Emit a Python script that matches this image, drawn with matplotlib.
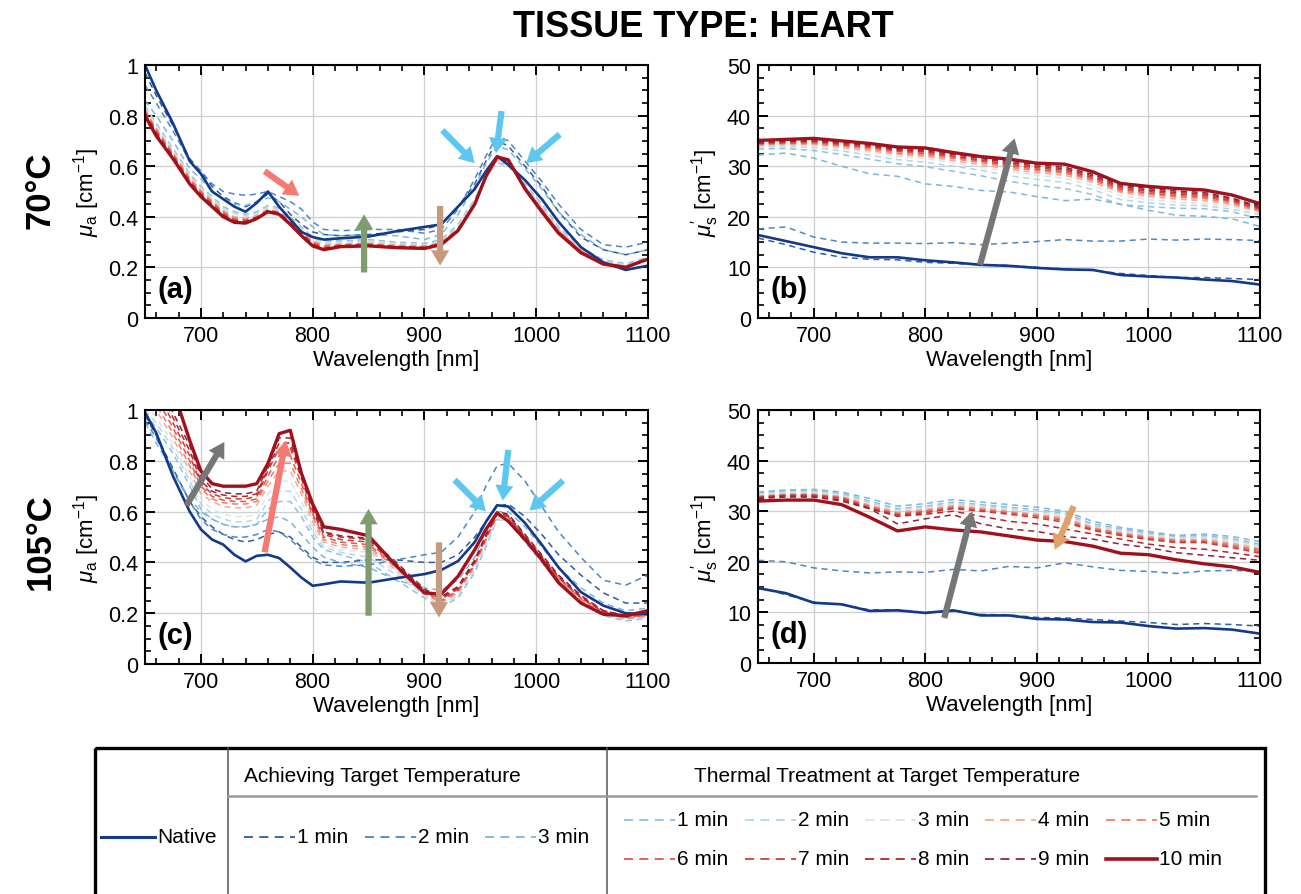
import numpy as np
import matplotlib
matplotlib.use('Agg')
import matplotlib.pyplot as plt
from matplotlib.ticker import MultipleLocator, FuncFormatter
from matplotlib.patches import Rectangle, FancyArrowPatch, ArrowStyle

plt.rcParams['font.family'] = ['Liberation Sans', 'DejaVu Sans']
plt.rcParams['mathtext.fontset'] = 'custom'
plt.rcParams['mathtext.rm'] = 'Liberation Sans'
plt.rcParams['mathtext.it'] = 'Liberation Sans:italic'

# ---- data ----
# wavelength grid for the absorption panels (a), (c)
wl_mua = [650, 660, 675, 690, 700, 710, 720, 730, 740, 750,
          760, 770, 780, 790, 800, 810, 825, 850, 875, 900,
          915, 930, 945, 955, 965, 975, 990, 1005, 1020, 1040,
          1060, 1080, 1100]
# wavelength grid for the scattering panels (b), (d)
wl_mus = [650, 675, 700, 725, 750, 775, 800, 825, 850, 875,
          900, 925, 950, 975, 1000, 1025, 1050, 1075, 1100]

# (a) 70 C, mu_a
mua70_native = [1.00, 0.90, 0.77, 0.62, 0.57, 0.50, 0.47, 0.44, 0.42, 0.455,
                0.50, 0.44, 0.39, 0.34, 0.32, 0.31, 0.315, 0.322, 0.343, 0.36,
                0.37, 0.44, 0.51, 0.58, 0.64, 0.605, 0.545, 0.47, 0.38, 0.28,
                0.22, 0.19, 0.207]
mua70_ach = np.array([
    [0.97, 0.88, 0.76, 0.63, 0.58, 0.52, 0.48, 0.455, 0.44, 0.46,
     0.49, 0.46, 0.41, 0.37, 0.34, 0.33, 0.325, 0.33, 0.34, 0.35,
     0.37, 0.44, 0.53, 0.62, 0.70, 0.68, 0.60, 0.52, 0.42, 0.32,
     0.27, 0.25, 0.27],
    [0.92, 0.85, 0.74, 0.62, 0.58, 0.53, 0.50, 0.49, 0.485, 0.49,
     0.50, 0.48, 0.46, 0.43, 0.38, 0.35, 0.345, 0.35, 0.35, 0.335,
     0.35, 0.43, 0.55, 0.64, 0.72, 0.70, 0.62, 0.54, 0.45, 0.35,
     0.29, 0.28, 0.30],
    [0.86, 0.80, 0.70, 0.59, 0.55, 0.50, 0.47, 0.45, 0.445, 0.46,
     0.475, 0.46, 0.43, 0.40, 0.36, 0.33, 0.325, 0.33, 0.325, 0.31,
     0.33, 0.41, 0.52, 0.61, 0.68, 0.665, 0.59, 0.51, 0.42, 0.33,
     0.27, 0.25, 0.27],
])
mua70_heat = np.array([
    [0.84, 0.77, 0.67, 0.57, 0.52, 0.48, 0.44, 0.42, 0.41, 0.42,
     0.445, 0.435, 0.40, 0.36, 0.32, 0.305, 0.305, 0.31, 0.30, 0.295,
     0.31, 0.37, 0.47, 0.56, 0.615, 0.605, 0.53, 0.45, 0.36, 0.28,
     0.23, 0.215, 0.24],
    [0.835, 0.765, 0.665, 0.565, 0.515, 0.475, 0.435, 0.415, 0.405, 0.415,
     0.44, 0.43, 0.395, 0.355, 0.315, 0.30, 0.30, 0.305, 0.295, 0.29,
     0.305, 0.365, 0.465, 0.555, 0.61, 0.60, 0.525, 0.445, 0.355, 0.275,
     0.225, 0.21, 0.235],
    [0.83, 0.76, 0.66, 0.56, 0.51, 0.47, 0.43, 0.41, 0.40, 0.41,
     0.435, 0.425, 0.39, 0.35, 0.31, 0.295, 0.295, 0.30, 0.29, 0.287,
     0.30, 0.36, 0.46, 0.555, 0.62, 0.61, 0.52, 0.44, 0.35, 0.27,
     0.222, 0.207, 0.235],
    [0.825, 0.75, 0.655, 0.555, 0.505, 0.465, 0.425, 0.40, 0.395, 0.405,
     0.43, 0.42, 0.385, 0.345, 0.305, 0.29, 0.292, 0.296, 0.288, 0.285,
     0.298, 0.355, 0.457, 0.558, 0.625, 0.615, 0.52, 0.435, 0.348, 0.267,
     0.22, 0.205, 0.235],
    [0.82, 0.745, 0.65, 0.55, 0.50, 0.46, 0.42, 0.395, 0.39, 0.40,
     0.428, 0.418, 0.382, 0.34, 0.30, 0.285, 0.29, 0.293, 0.285, 0.282,
     0.296, 0.352, 0.455, 0.558, 0.628, 0.618, 0.518, 0.43, 0.345, 0.265,
     0.218, 0.204, 0.235],
    [0.815, 0.74, 0.645, 0.545, 0.495, 0.455, 0.415, 0.39, 0.387, 0.398,
     0.426, 0.416, 0.379, 0.336, 0.296, 0.28, 0.288, 0.291, 0.283, 0.28,
     0.294, 0.35, 0.453, 0.559, 0.63, 0.62, 0.516, 0.428, 0.342, 0.263,
     0.217, 0.203, 0.234],
    [0.81, 0.735, 0.64, 0.54, 0.49, 0.45, 0.41, 0.386, 0.383, 0.397,
     0.424, 0.414, 0.376, 0.333, 0.293, 0.277, 0.286, 0.289, 0.281, 0.279,
     0.293, 0.349, 0.452, 0.56, 0.632, 0.621, 0.514, 0.425, 0.34, 0.261,
     0.216, 0.202, 0.234],
    [0.805, 0.73, 0.635, 0.535, 0.487, 0.447, 0.406, 0.383, 0.38, 0.396,
     0.423, 0.412, 0.374, 0.33, 0.29, 0.274, 0.284, 0.287, 0.28, 0.278,
     0.292, 0.348, 0.451, 0.56, 0.634, 0.622, 0.512, 0.423, 0.338, 0.26,
     0.215, 0.201, 0.234],
    [0.80, 0.725, 0.632, 0.532, 0.483, 0.443, 0.403, 0.38, 0.377, 0.394,
     0.421, 0.411, 0.372, 0.327, 0.287, 0.272, 0.283, 0.286, 0.279, 0.276,
     0.291, 0.346, 0.45, 0.56, 0.635, 0.623, 0.511, 0.421, 0.336, 0.259,
     0.214, 0.20, 0.233],
    [0.80, 0.72, 0.63, 0.53, 0.48, 0.44, 0.40, 0.378, 0.375, 0.393,
     0.42, 0.41, 0.37, 0.325, 0.285, 0.27, 0.282, 0.285, 0.278, 0.275,
     0.29, 0.345, 0.45, 0.56, 0.637, 0.625, 0.51, 0.42, 0.335, 0.258,
     0.213, 0.20, 0.233],
])

# (c) 105 C, mu_a
mua105_native = [0.99, 0.91, 0.74, 0.60, 0.53, 0.49, 0.47, 0.43, 0.404, 0.426,
                 0.43, 0.417, 0.38, 0.34, 0.308, 0.314, 0.325, 0.32, 0.338, 0.354,
                 0.37, 0.405, 0.48, 0.56, 0.625, 0.62, 0.555, 0.47, 0.38, 0.283,
                 0.23, 0.20, 0.196]
mua105_ach = np.array([
    [0.98, 0.90, 0.77, 0.64, 0.58, 0.54, 0.51, 0.49, 0.48, 0.49,
     0.51, 0.52, 0.50, 0.46, 0.42, 0.40, 0.40, 0.41, 0.41, 0.40,
     0.40, 0.43, 0.50, 0.56, 0.62, 0.63, 0.58, 0.51, 0.43, 0.35,
     0.28, 0.24, 0.24],
    [0.96, 0.89, 0.76, 0.64, 0.57, 0.53, 0.51, 0.50, 0.50, 0.51,
     0.53, 0.52, 0.49, 0.45, 0.41, 0.39, 0.385, 0.39, 0.41, 0.43,
     0.44, 0.50, 0.60, 0.70, 0.78, 0.79, 0.72, 0.62, 0.52, 0.42,
     0.33, 0.31, 0.35],
    [0.95, 0.87, 0.76, 0.65, 0.60, 0.57, 0.55, 0.54, 0.54, 0.55,
     0.57, 0.58, 0.56, 0.51, 0.46, 0.42, 0.40, 0.38, 0.33, 0.30,
     0.29, 0.33, 0.42, 0.52, 0.60, 0.60, 0.54, 0.46, 0.38, 0.30,
     0.24, 0.21, 0.22],
])
mua105_heat = np.array([
    [0.99, 0.93, 0.83, 0.70, 0.61, 0.57, 0.55, 0.54, 0.54, 0.55,
     0.61, 0.64, 0.64, 0.58, 0.50, 0.45, 0.43, 0.40, 0.33, 0.26,
     0.225, 0.26, 0.36, 0.46, 0.57, 0.56, 0.48, 0.40, 0.32, 0.24,
     0.19, 0.17, 0.18],
    [1.00, 0.95, 0.85, 0.72, 0.63, 0.59, 0.57, 0.56, 0.56, 0.57,
     0.64, 0.68, 0.68, 0.61, 0.52, 0.46, 0.44, 0.42, 0.35, 0.27,
     0.23, 0.27, 0.37, 0.47, 0.57, 0.565, 0.49, 0.41, 0.33, 0.245,
     0.195, 0.175, 0.185],
    [1.02, 0.97, 0.87, 0.74, 0.65, 0.61, 0.59, 0.58, 0.58, 0.59,
     0.67, 0.72, 0.72, 0.64, 0.54, 0.47, 0.45, 0.44, 0.36, 0.27,
     0.235, 0.275, 0.38, 0.48, 0.575, 0.565, 0.49, 0.41, 0.33, 0.25,
     0.20, 0.18, 0.19],
    [1.05, 1.00, 0.89, 0.76, 0.67, 0.64, 0.62, 0.615, 0.615, 0.625,
     0.70, 0.76, 0.76, 0.67, 0.56, 0.48, 0.46, 0.45, 0.37, 0.275,
     0.24, 0.28, 0.385, 0.485, 0.58, 0.57, 0.49, 0.41, 0.33, 0.25,
     0.20, 0.18, 0.19],
    [1.08, 1.02, 0.91, 0.78, 0.69, 0.65, 0.635, 0.63, 0.63, 0.64,
     0.72, 0.79, 0.79, 0.69, 0.58, 0.49, 0.47, 0.46, 0.38, 0.28,
     0.245, 0.285, 0.39, 0.49, 0.585, 0.575, 0.495, 0.415, 0.335, 0.255,
     0.20, 0.18, 0.19],
    [1.10, 1.05, 0.93, 0.80, 0.70, 0.66, 0.645, 0.64, 0.64, 0.65,
     0.74, 0.82, 0.82, 0.71, 0.59, 0.50, 0.48, 0.47, 0.385, 0.285,
     0.25, 0.29, 0.395, 0.495, 0.59, 0.58, 0.50, 0.42, 0.34, 0.26,
     0.205, 0.185, 0.195],
    [1.13, 1.08, 0.95, 0.82, 0.71, 0.67, 0.655, 0.65, 0.65, 0.66,
     0.76, 0.85, 0.85, 0.73, 0.60, 0.51, 0.49, 0.48, 0.39, 0.29,
     0.255, 0.295, 0.40, 0.50, 0.59, 0.58, 0.50, 0.42, 0.34, 0.26,
     0.205, 0.185, 0.195],
    [1.16, 1.10, 0.97, 0.84, 0.72, 0.68, 0.665, 0.66, 0.66, 0.67,
     0.77, 0.87, 0.87, 0.74, 0.61, 0.515, 0.50, 0.49, 0.395, 0.29,
     0.26, 0.30, 0.405, 0.505, 0.595, 0.585, 0.505, 0.425, 0.345, 0.265,
     0.21, 0.19, 0.20],
    [1.20, 1.13, 0.99, 0.86, 0.74, 0.69, 0.675, 0.67, 0.67, 0.68,
     0.78, 0.89, 0.89, 0.75, 0.62, 0.52, 0.505, 0.495, 0.40, 0.295,
     0.265, 0.305, 0.41, 0.51, 0.60, 0.59, 0.51, 0.43, 0.35, 0.27,
     0.21, 0.19, 0.20],
    [1.35, 1.25, 1.08, 0.88, 0.76, 0.71, 0.70, 0.70, 0.70, 0.71,
     0.79, 0.907, 0.92, 0.75, 0.63, 0.54, 0.53, 0.505, 0.385, 0.28,
     0.275, 0.345, 0.45, 0.53, 0.595, 0.562, 0.49, 0.41, 0.32, 0.24,
     0.196, 0.19, 0.21],
])

# (b) 70 C, mu_s'
mus70_native = [16.4, 15.2, 14.0, 12.8, 12.0, 12.0, 11.4, 11.0, 10.5, 10.3,
                9.9, 9.6, 9.5, 8.5, 8.2, 8.0, 7.6, 7.3, 6.6]
mus70_ach = np.array([
    [15.8, 14.5, 13.0, 12.0, 11.6, 11.5, 11.0, 10.8, 10.5, 10.4,
     10.0, 9.7, 9.4, 8.8, 8.4, 8.0, 8.0, 7.8, 7.6],
    [17.6, 18.0, 16.0, 15.0, 14.8, 14.8, 14.7, 14.9, 14.5, 14.8,
     15.1, 15.5, 15.2, 15.2, 15.6, 15.4, 15.6, 15.5, 15.3],
    [32.2, 32.6, 31.6, 30.0, 28.5, 28.0, 26.5, 26.0, 25.2, 24.9,
     24.0, 23.2, 23.5, 22.5, 21.3, 20.3, 20.1, 19.6, 18.1],
])
mus70_heat = np.array([
    [33.4, 33.5, 33.1, 32.3, 31.4, 30.5, 29.9, 29.0, 28.1, 27.0,
     26.2, 25.6, 24.4, 22.4, 22.0, 21.7, 21.6, 21.0, 19.6],
    [33.8, 33.9, 33.7, 33.0, 32.2, 31.3, 30.8, 30.0, 29.2, 28.1,
     27.4, 26.8, 25.4, 23.4, 22.8, 22.3, 22.2, 21.5, 20.4],
    [34.0, 34.1, 34.1, 33.4, 32.8, 31.9, 31.5, 30.7, 29.8, 28.9,
     28.2, 27.6, 26.2, 24.2, 23.4, 22.9, 22.6, 22.0, 20.8],
    [34.1, 34.3, 34.3, 33.7, 33.1, 32.3, 31.9, 31.1, 30.3, 29.4,
     28.7, 28.2, 26.8, 24.8, 24.0, 23.5, 23.2, 22.4, 21.0],
    [34.3, 34.5, 34.5, 34.0, 33.4, 32.6, 32.2, 31.5, 30.7, 29.8,
     29.1, 28.6, 27.2, 25.1, 24.4, 23.9, 23.6, 22.7, 21.2],
    [34.4, 34.6, 34.7, 34.2, 33.7, 32.9, 32.5, 31.8, 31.0, 30.1,
     29.4, 28.9, 27.5, 25.4, 24.7, 24.2, 23.9, 23.0, 21.4],
    [34.5, 34.8, 34.9, 34.4, 33.9, 33.1, 32.8, 32.0, 31.2, 30.4,
     29.7, 29.2, 27.8, 25.7, 25.0, 24.5, 24.2, 23.2, 21.6],
    [34.6, 34.9, 35.0, 34.6, 34.1, 33.3, 33.0, 32.3, 31.5, 30.7,
     30.0, 29.5, 28.1, 26.0, 25.3, 24.8, 24.5, 23.5, 21.8],
    [34.8, 35.0, 35.2, 34.8, 34.3, 33.5, 33.3, 32.5, 31.7, 31.0,
     30.3, 29.8, 28.4, 26.3, 25.6, 25.1, 24.8, 23.7, 22.0],
    [35.1, 35.3, 35.5, 35.0, 34.5, 33.8, 33.6, 32.7, 31.9, 31.4,
     30.6, 30.4, 28.9, 26.6, 26.0, 25.6, 25.3, 24.3, 22.6],
])

# (d) 105 C, mu_s'
mus105_native = [14.8, 13.8, 11.9, 11.6, 10.3, 10.4, 9.9, 10.4, 9.4, 9.4,
                 8.7, 8.6, 8.1, 8.0, 7.3, 6.8, 6.9, 6.6, 5.8]
mus105_ach = np.array([
    [15.0, 13.5, 12.0, 11.5, 10.5, 10.5, 10.0, 10.2, 9.6, 9.5,
     9.0, 8.9, 8.6, 8.3, 8.0, 7.6, 7.8, 7.6, 7.3],
    [20.3, 20.0, 18.8, 18.2, 17.8, 18.0, 17.9, 18.5, 18.2, 19.1,
     18.8, 19.8, 19.0, 18.3, 18.1, 17.7, 18.2, 18.3, 18.1],
    [33.8, 34.2, 34.3, 33.8, 32.5, 31.0, 31.5, 32.3, 31.8, 31.3,
     30.8, 30.0, 28.0, 26.8, 26.0, 25.2, 25.5, 25.0, 24.0],
])
mus105_heat = np.array([
    [33.6, 34.0, 34.0, 33.5, 32.0, 30.5, 31.0, 31.8, 31.3, 30.8,
     30.3, 29.6, 27.5, 26.5, 25.7, 25.0, 25.2, 24.6, 23.5],
    [33.4, 33.8, 33.8, 33.3, 31.7, 30.2, 30.7, 31.5, 31.0, 30.5,
     30.0, 29.3, 27.2, 26.2, 25.4, 24.8, 24.9, 24.3, 23.2],
    [33.2, 33.6, 33.6, 33.1, 31.4, 30.0, 30.5, 31.3, 30.8, 30.2,
     29.7, 29.0, 27.0, 26.0, 25.2, 24.6, 24.6, 24.0, 22.9],
    [33.0, 33.4, 33.4, 32.9, 31.2, 29.8, 30.3, 31.1, 30.6, 30.0,
     29.4, 28.7, 26.8, 25.8, 25.0, 24.4, 24.4, 23.7, 22.6],
    [32.9, 33.3, 33.3, 32.8, 31.0, 29.6, 30.1, 30.9, 30.4, 29.8,
     29.2, 28.4, 26.6, 25.6, 24.8, 24.2, 24.2, 23.4, 22.3],
    [32.8, 33.2, 33.2, 32.6, 30.8, 29.4, 29.9, 30.7, 30.2, 29.6,
     29.0, 28.1, 26.4, 25.4, 24.6, 24.0, 24.0, 23.1, 22.0],
    [32.7, 33.1, 33.1, 32.5, 30.6, 29.2, 29.7, 30.5, 30.0, 29.4,
     28.7, 27.8, 26.2, 25.2, 24.4, 23.8, 23.8, 22.8, 21.7],
    [32.6, 33.0, 32.9, 32.2, 30.5, 29.0, 29.4, 30.0, 29.0, 28.0,
     27.5, 26.5, 25.5, 24.5, 23.5, 22.8, 22.5, 21.8, 21.0],
    [32.5, 32.8, 32.8, 32.0, 30.5, 27.5, 28.5, 29.3, 27.5, 26.5,
     26.0, 25.0, 24.5, 23.5, 22.8, 21.8, 21.3, 20.8, 20.3],
    [32.0, 32.2, 32.2, 31.3, 28.8, 26.1, 26.9, 26.3, 25.9, 25.1,
     24.3, 24.0, 23.1, 21.7, 21.4, 20.4, 19.6, 19.0, 17.9],
])

ach_labels = ['1 min', '2 min', '3 min']
heat_labels = ['1 min', '2 min', '3 min', '4 min', '5 min',
               '6 min', '7 min', '8 min', '9 min', '10 min']

# ---- styles ----
native_color = '#12398a'
ach_colors = ['#2c5d9f', '#4a88c3', '#7cb6dc']
heat_colors = ['#8cc1e2', '#b4d6eb', '#d5e6f2', '#f5aa8e', '#ee7f68',
               '#e3554d', '#cf3a36', '#b3242d', '#8e2637', '#a1111b']
c_gray = '#767676'
c_salmon = '#f47a72'
c_green = '#7f9b70'
c_brown = '#c69a7c'
c_cyan = '#5cc8f2'
c_tan = '#e0a26c'
DASH = (4, 3)

W, H = 1301, 895
fig = plt.figure(figsize=(W / 100, H / 100), dpi=100)

ov = fig.add_axes([0, 0, 1, 1])
ov.set_xlim(0, W)
ov.set_ylim(H, 0)
ov.axis('off')


def px_rect(x0, y0, x1, y1):
    return [x0 / W, 1 - y1 / H, (x1 - x0) / W, (y1 - y0) / H]


def draw_panel(ax, wl, native, ach, heat, top, major, minor, ylabel, letter, arrows, ytick_fmt):
    for k in range(9):
        ax.plot(wl, heat[k], color=heat_colors[k], lw=1.1, dashes=DASH)
    for k in range(3):
        ax.plot(wl, ach[k], color=ach_colors[k], lw=1.1, dashes=DASH)
    ax.plot(wl, native, color=native_color, lw=1.9)
    ax.plot(wl, heat[9], color=heat_colors[9], lw=2.4)

    for x0, y0, x1, y1, c in arrows:
        arr = FancyArrowPatch((x0, y0), (x1, y1),
                              arrowstyle=ArrowStyle.Simple(head_length=1.1, head_width=1.3, tail_width=0.45),
                              mutation_scale=10, color=c, lw=0, shrinkA=0, shrinkB=0, zorder=5)
        ax.add_patch(arr)

    ax.set_xlim(650, 1100)
    ax.set_ylim(0, top)
    ax.xaxis.set_major_locator(MultipleLocator(100))
    ax.xaxis.set_minor_locator(MultipleLocator(20))
    ax.yaxis.set_major_locator(MultipleLocator(major))
    ax.yaxis.set_minor_locator(MultipleLocator(minor))
    ax.yaxis.set_major_formatter(FuncFormatter(ytick_fmt))
    ax.tick_params(which='both', direction='in', top=True, right=True, labelsize=15.5, pad=5)
    ax.tick_params(which='major', length=7, width=1.4)
    ax.tick_params(which='minor', length=4, width=1.2)
    ax.grid(True, which='major', color='#cfcfcf', lw=0.9)
    ax.set_axisbelow(True)
    for s in ax.spines.values():
        s.set_linewidth(1.5)
    ax.set_xlabel('Wavelength [nm]', fontsize=16, labelpad=2)
    ax.set_ylabel(ylabel, fontsize=16, labelpad=4)
    ax.text(0.025, 0.115, letter, transform=ax.transAxes, fontsize=21, fontweight='bold',
            ha='left', va='center')


mua_lab = r'$\mu_{\mathrm{a}}$ [cm$^{-1}$]'
mus_lab = r"$\mu_{\mathrm{s}}^{\prime}$ [cm$^{-1}$]"
fmt_mua = lambda v, p: f'{v:g}'
fmt_mus = lambda v, p: f'{v:.0f}'

ax_a = fig.add_axes(px_rect(145, 66, 648, 319))
ax_b = fig.add_axes(px_rect(758, 66, 1260, 319))
ax_c = fig.add_axes(px_rect(145, 411, 648, 665))
ax_d = fig.add_axes(px_rect(758, 411, 1260, 664))

draw_panel(ax_a, wl_mua, mua70_native, mua70_ach, mua70_heat, 1, 0.2, 0.05, mua_lab, '(a)',
           [(757, 0.58, 788, 0.483, c_salmon),
            (846, 0.18, 846, 0.41, c_green),
            (914, 0.443, 914, 0.207, c_brown),
            (916, 0.742, 945, 0.612, c_cyan),
            (969, 0.818, 964, 0.651, c_cyan),
            (1021, 0.726, 991, 0.612, c_cyan)], fmt_mua)
draw_panel(ax_b, wl_mus, mus70_native, mus70_ach, mus70_heat, 50, 10, 2.5, mus_lab, '(b)',
           [(849, 10.5, 880, 35.5, c_gray)], fmt_mus)
draw_panel(ax_c, wl_mua, mua105_native, mua105_ach, mua105_heat, 1, 0.2, 0.05, mua_lab, '(c)',
           [(687, 0.624, 721, 0.874, c_gray),
            (757, 0.44, 776, 0.88, c_salmon),
            (850, 0.19, 850, 0.61, c_green),
            (913, 0.479, 913, 0.183, c_brown),
            (927, 0.725, 955, 0.601, c_cyan),
            (975, 0.843, 970, 0.643, c_cyan),
            (1024, 0.722, 994, 0.604, c_cyan)], fmt_mua)
draw_panel(ax_d, wl_mus, mus105_native, mus105_ach, mus105_heat, 50, 10, 2.5, mus_lab, '(d)',
           [(817, 8.9, 842, 30.0, c_gray),
            (933, 31.0, 916, 22.4, c_tan)], fmt_mus)

# title and row labels
ov.text(703, 27, 'TISSUE TYPE: HEART', ha='center', va='center', fontsize=26, fontweight='bold')
ov.text(40, 190, '70°C', ha='center', va='center', rotation=90, fontsize=25, fontweight='bold')
ov.text(40, 542, '105°C', ha='center', va='center', rotation=90, fontsize=25, fontweight='bold')

# legend table
ov.add_patch(Rectangle((95, 749), 1170, 200, fill=False, ec='black', lw=2.4, clip_on=False))
ov.plot([228, 228], [749, 900], color='#555555', lw=1.1, clip_on=False)
ov.plot([607, 607], [749, 900], color='#555555', lw=1.1, clip_on=False)
ov.plot([228, 1256], [797, 797], color='#9a9a9a', lw=1.8)
ov.text(244, 777, 'Achieving Target Temperature', fontsize=15, va='center', ha='left')
ov.text(887, 777, 'Thermal Treatment at Target Temperature', fontsize=15, va='center', ha='center')

LEG_DASH = (5, 3.5)
ov.plot([101, 155], [838, 838], color=native_color, lw=2.2)
ov.text(157, 838, 'Native', fontsize=15, va='center', ha='left')
for k, x0 in enumerate([244, 365, 485]):
    ov.plot([x0, x0 + 51], [838, 838], color=ach_colors[k], lw=1.3, dashes=LEG_DASH)
    ov.text(x0 + 53, 838, ach_labels[k], fontsize=15, va='center', ha='left')
for k in range(10):
    x0 = [624, 745, 865, 985, 1106][k % 5]
    y = 821 if k < 5 else 860
    if k == 9:
        ov.plot([x0, x0 + 51], [y, y], color=heat_colors[k], lw=2.6)
    else:
        ov.plot([x0, x0 + 51], [y, y], color=heat_colors[k], lw=1.3, dashes=LEG_DASH)
    ov.text(x0 + 53, y, heat_labels[k], fontsize=15, va='center', ha='left')

fig.savefig('out.png', dpi=100)
